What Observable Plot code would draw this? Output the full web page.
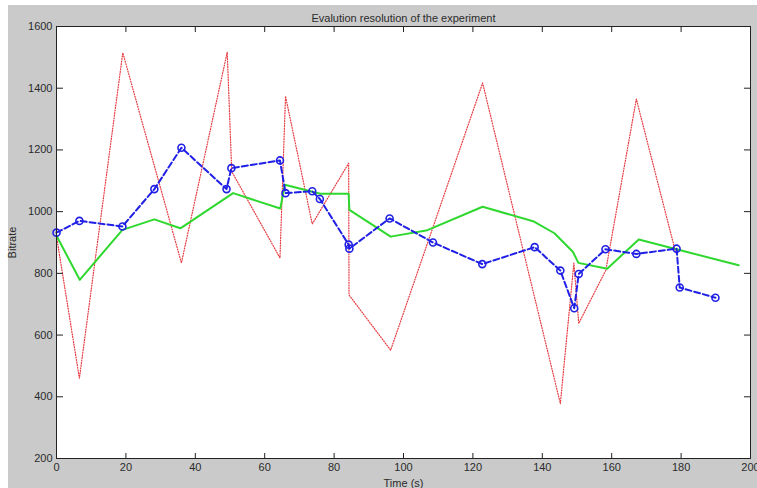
<!DOCTYPE html>
<html>
<head>
<meta charset="utf-8">
<script src="https://cdn.jsdelivr.net/npm/d3@7"></script>
<script src="https://cdn.jsdelivr.net/npm/@observablehq/plot@0.6"></script>
<style>
  html, body { margin: 0; padding: 0; background: #fff; }
  #wrap { position: relative; width: 757px; height: 488px; background: #fff; overflow: hidden; }
  #gray { position: absolute; left: 8px; top: 5px; right: 0; bottom: 0; background: #cacaca; }
  #wrap svg { position: absolute; left: 0; top: 0; }
</style>
</head>
<body>
<div id="wrap"><div id="gray"></div></div>
<script>
// ---- data ----
const title = "Evalution resolution of the experiment";
const xLabel = "Time (s)";
const yLabel = "Bitrate";
const xTicks = [0, 20, 40, 60, 80, 100, 120, 140, 160, 180, 200];
const yTicks = [200, 400, 600, 800, 1000, 1200, 1400, 1600];

// red dotted series
const redTime = [0, 6.6, 19.1, 36, 49.2, 50.5, 64.4, 66, 73.7, 84.2, 84.3, 96.3, 122.8, 145.2, 149.1, 150.5, 158.3, 167.1, 178.5];
const redBitrate = [920, 460, 1515, 834, 1517, 1130, 850, 1374, 960, 1157, 730, 551, 1417, 378, 833, 638, 810, 1365, 865];

// green solid series
const greenTime = [0, 6.7, 19, 28.2, 35.7, 50.9, 64.5, 65.8, 76, 84.2, 84.4, 96.3, 106.9, 122.8, 137.6, 143.5, 148.8, 150.4, 158.7, 167.8, 177, 196.6];
const greenBitrate = [922, 779, 941, 975, 946, 1060, 1010, 1087, 1058, 1058, 1006, 919, 940, 1016, 968, 930, 870, 834, 815, 910, 883, 826];

// blue dashed series with circle markers
const blueTime = [0, 6.6, 19, 28.2, 36, 49, 50.4, 64.4, 66, 73.7, 75.9, 84.2, 84.4, 96, 108.5, 122.7, 137.8, 145.2, 149.2, 150.5, 158.2, 167.1, 178.7, 179.6, 189.9];
const blueBitrate = [932, 970, 952, 1073, 1207, 1073, 1141, 1166, 1060, 1066, 1041, 893, 880, 978, 900, 830, 885, 809, 687, 798, 878, 863, 880, 754, 721];

const toRows = (ts, vs) => ts.map((t, i) => ({t, v: vs[i]}));
const red = toRows(redTime, redBitrate);
const green = toRows(greenTime, greenBitrate);
const blue = toRows(blueTime, blueBitrate);

const fmt = d => String(d);

const chart = Plot.plot({
  width: 757,
  height: 488,
  marginLeft: 56,
  marginRight: 7,
  marginTop: 26,
  marginBottom: 30,
  style: {background: "transparent", fontFamily: "'Liberation Sans', Arial, sans-serif", fontSize: "11px", color: "#2a2a2a", overflow: "visible"},
  x: {domain: [0, 200]},
  y: {domain: [200, 1600]},
  marks: [
    Plot.frame({fill: "white", stroke: null}),
    Plot.line(red, {x: "t", y: "v", stroke: "#e83a40", strokeWidth: 1.2, strokeDasharray: "1,1.6"}),
    Plot.line(green, {x: "t", y: "v", stroke: "#2fd82f", strokeWidth: 2}),
    Plot.line(blue, {x: "t", y: "v", stroke: "#1f1fe6", strokeWidth: 2, strokeDasharray: "6,3"}),
    Plot.dot(blue, {x: "t", y: "v", r: 3.5, stroke: "#1f1fe6", strokeWidth: 1.6, fill: "none"}),
    Plot.frame({stroke: "#222"}),
    // inward ticks on all four sides
    Plot.axisX({ticks: xTicks, anchor: "top", frameAnchor: "bottom", fill: "none", tickSize: 6, label: null, stroke: "#222"}),
    Plot.axisX({ticks: xTicks, anchor: "bottom", frameAnchor: "top", fill: "none", tickSize: 6, label: null, stroke: "#222"}),
    Plot.axisY({ticks: yTicks, anchor: "right", frameAnchor: "left", fill: "none", tickSize: 6, label: null, stroke: "#222"}),
    Plot.axisY({ticks: yTicks, anchor: "left", frameAnchor: "right", fill: "none", tickSize: 6, label: null, stroke: "#222"}),
    // tick labels and axis labels
    Plot.axisX({ticks: xTicks, anchor: "bottom", tickSize: 0, tickPadding: 5, tickFormat: fmt, label: xLabel, labelAnchor: "center", labelArrow: "none", labelOffset: 28}),
    Plot.axisY({ticks: yTicks, anchor: "left", tickSize: 0, tickPadding: 4, tickFormat: fmt, label: yLabel, labelAnchor: "center", labelArrow: "none", labelOffset: 48}),
    Plot.text([title], {text: d => d, frameAnchor: "top", dy: -12, fontSize: 11})
  ]
});
document.getElementById("wrap").appendChild(chart);
</script>
</body>
</html>
